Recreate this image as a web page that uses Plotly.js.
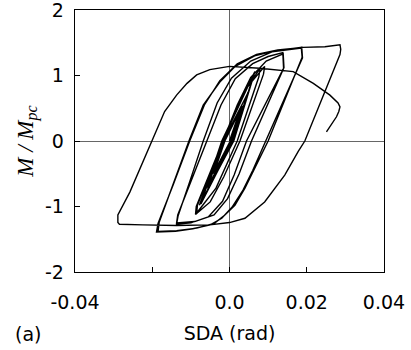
<!DOCTYPE html>
<html>
<head>
<meta charset="utf-8">
<script src="https://cdn.plot.ly/plotly-3.0.1.min.js"></script>
<style>html,body{margin:0;padding:0;background:#fff;}#chart{width:411px;height:350px;}</style>
</head>
<body>
<div id="chart"></div>
<script>
// Small elastic cycles (thick bundle)
var smallX = [0, 0.0030, 0.0002, -0.0040, -0.0012, 0.0033, 0.0005, -0.0043, -0.0014, 0.0048, 0.0006, -0.0056, -0.0016, 0.0050, 0.0008, -0.0059, -0.0018, 0.0064, 0.0009, -0.0074, -0.0020, 0.0066, 0.0011, -0.0078];
var smallY = [0, 0.52, 0, -0.48, 0, 0.54, 0, -0.50, 0, 0.74, 0, -0.70, 0, 0.76, 0, -0.72, 0, 1.04, 0, -0.96, 0, 1.06, 0, -0.98];
// Cycles to about +/-0.009 rad
var c09X = [-0.0018, 0.0033, 0.0079, 0.0076, 0.0020, -0.0035, -0.0085, -0.0083, -0.0016, 0.0040, 0.0091, 0.0088, 0.0027, -0.0015, -0.0050, -0.0088];
var c09Y = [0, 0.70, 1.11, 0.98, 0, -0.72, -1.10, -0.98, 0, 0.78, 1.14, 1.02, 0, -0.55, -0.93, -1.12];
// Two cycles to about +/-0.014 rad
var c14X = [-0.0086, -0.0017, 0.0020, 0.0055, 0.0095, 0.0139, 0.0141, 0.0057, 0.0025, -0.0005, -0.0040, -0.0090, -0.0137, -0.0134, -0.0095, -0.0058, -0.0022, 0.0015, 0.0060, 0.0100, 0.0138, 0.0140, 0.0044, 0.0012, -0.0018, -0.0055, -0.0100, -0.0137];
var c14Y = [-1.00, 0, 0.55, 0.97, 1.22, 1.33, 1.12, 0, -0.50, -0.88, -1.13, -1.23, -1.25, -1.13, -0.55, 0, 0.55, 0.95, 1.18, 1.29, 1.35, 1.11, 0, -0.52, -0.92, -1.16, -1.25, -1.27];
// Two cycles to about +/-0.019 rad
var c19X = [-0.0133, -0.0103, -0.0068, -0.0032, 0.0005, 0.0055, 0.0110, 0.0186, 0.0188, 0.0100, 0.0066, 0.0040, 0.0014, -0.0012, -0.0040, -0.0085, -0.0137, -0.0185, -0.0182, -0.0146, -0.0105, -0.0068, -0.0025, 0.0015, 0.0065, 0.0120, 0.0187, 0.0189, 0.0093, 0.0060, 0.0035, 0.0008, -0.0020, -0.0050, -0.0095, -0.0140, -0.0189];
var c19Y = [-1.14, -0.62, 0, 0.58, 0.96, 1.22, 1.36, 1.42, 1.28, 0, -0.42, -0.72, -0.98, -1.13, -1.26, -1.33, -1.37, -1.38, -1.24, -0.67, 0, 0.55, 0.90, 1.14, 1.30, 1.38, 1.43, 1.27, 0, -0.45, -0.75, -1.00, -1.18, -1.28, -1.34, -1.38, -1.39];
// Large cycle to +0.029 / -0.029 rad
var c30X = [-0.0185, -0.0146, -0.0103, -0.0065, -0.0025, 0.0020, 0.0070, 0.0125, 0.0190, 0.0247, 0.0286, 0.0288, 0.0286, 0.0195, 0.0178, 0.0143, 0.0091, 0.0040, 0.0000, -0.0051, -0.0137, -0.0224, -0.0285, -0.0289];
var c30Y = [-1.26, -0.67, 0, 0.55, 0.92, 1.18, 1.32, 1.39, 1.43, 1.44, 1.47, 1.40, 1.32, 0, -0.16, -0.52, -0.93, -1.18, -1.245, -1.28, -1.29, -1.28, -1.27, -1.245];
// Final reloading with strength degradation
var finalX = [-0.0289, -0.0258, -0.0228, -0.0198, -0.0168, -0.0137, -0.0110, -0.0085, -0.0051, 0.0000, 0.0078, 0.0165, 0.0217, 0.0260, 0.0281, 0.0286, 0.0283, 0.0277, 0.0265, 0.0251];
var finalY = [-1.13, -0.78, -0.37, 0.04, 0.45, 0.70, 0.88, 1.01, 1.09, 1.14, 1.11, 1.06, 0.88, 0.70, 0.58, 0.52, 0.45, 0.37, 0.26, 0.14];

var xTickVals = [-0.04, 0, 0.02, 0.04];
var xTickText = ['-0.04', '0.0', '0.02', '0.04'];
var yTickVals = [-2, -1, 0, 1, 2];
var yTickText = ['-2', '-1', '0', '1', '2'];

var sda = [].concat(smallX, c09X, c14X, c19X, c30X, finalX);
var moment = [].concat(smallY, c09Y, c14Y, c19Y, c30Y, finalY);

var trace = {
  x: sda, y: moment, type: 'scatter', mode: 'lines',
  line: {color: '#000', width: 1.4},
  hoverinfo: 'skip', showlegend: false
};

var tickFont = {family: 'DejaVu Sans, Arial, sans-serif', size: 19, color: '#000'};

var layout = {
  width: 411, height: 350,
  margin: {l: 75, r: 27, t: 10, b: 78},
  paper_bgcolor: '#fff', plot_bgcolor: '#fff',
  showlegend: false,
  font: tickFont,
  xaxis: {
    range: [-0.04, 0.04], tickmode: 'array', tickvals: xTickVals, ticktext: xTickText,
    ticks: 'inside', ticklen: 5, tickwidth: 1, tickcolor: '#000',
    minor: {dtick: 0.02, tick0: 0, ticks: 'inside', ticklen: 5, tickwidth: 1, tickcolor: '#000', showgrid: false},
    showline: true, mirror: true, linecolor: '#000', linewidth: 1.3,
    showgrid: false, zeroline: true, zerolinecolor: '#666', zerolinewidth: 1,
    tickfont: tickFont, ticklabelstandoff: 13, ticklabeloverflow: 'allow',
    title: {text: 'SDA (rad)', font: tickFont, standoff: 14}
  },
  yaxis: {
    range: [-2, 2], tickmode: 'array', tickvals: yTickVals, ticktext: yTickText,
    ticks: 'inside', ticklen: 5, tickwidth: 1, tickcolor: '#000',
    showline: true, mirror: true, linecolor: '#000', linewidth: 1.3,
    showgrid: false, zeroline: true, zerolinecolor: '#666', zerolinewidth: 1,
    tickfont: tickFont, ticklabelstandoff: 6, ticklabeloverflow: 'allow',
    title: {text: '<i>M / M<sub>pc</sub></i>', font: {family: 'Liberation Serif, Times New Roman, serif', size: 23, color: '#000'}, standoff: 5}
  },
  annotations: [{
    text: '(a)', xref: 'paper', yref: 'paper', x: -0.152, y: -0.235,
    xanchor: 'center', yanchor: 'middle', showarrow: false, font: tickFont
  }]
};

Plotly.newPlot('chart', [trace], layout, {staticPlot: true, displayModeBar: false});
</script>
</body>
</html>
